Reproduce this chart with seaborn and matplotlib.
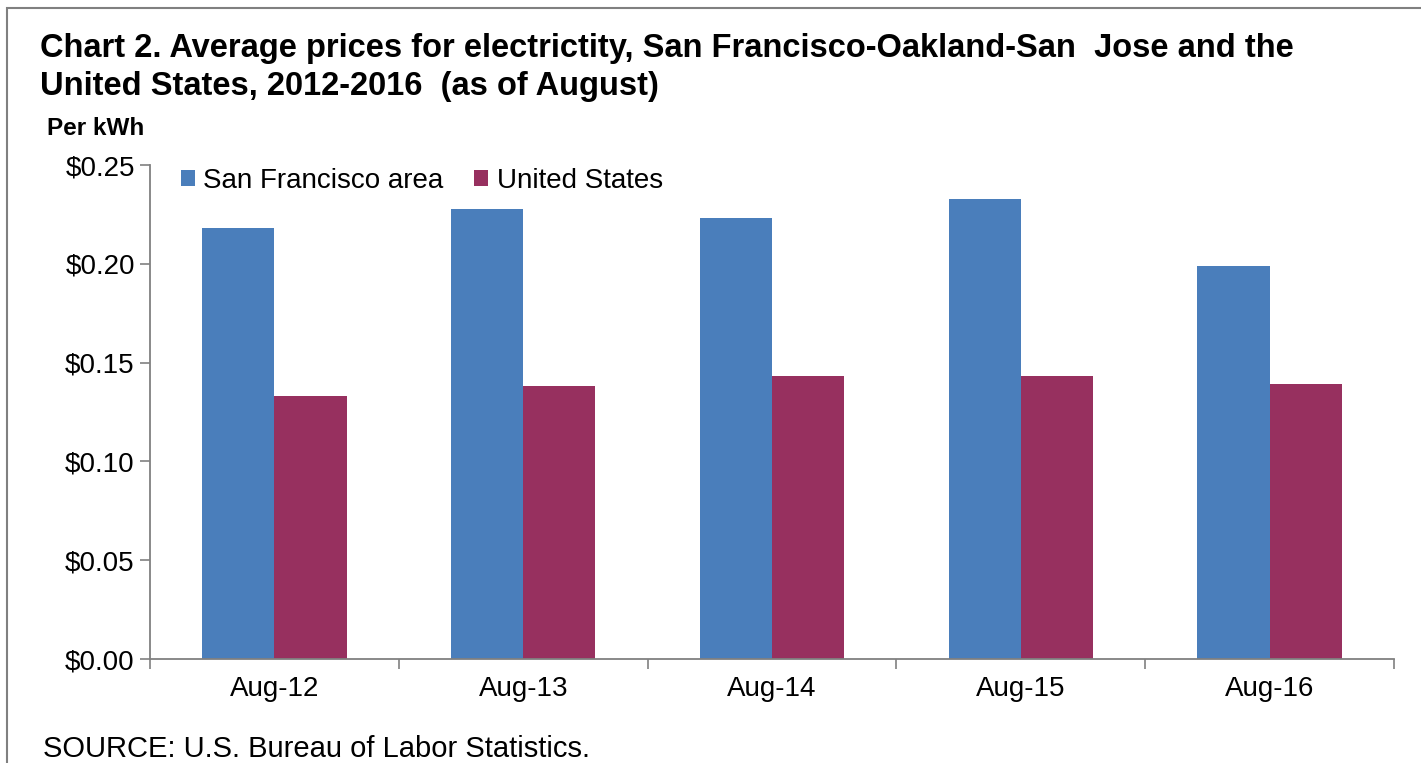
import pandas as pd
import seaborn as sns
import matplotlib.pyplot as plt
from matplotlib.ticker import FuncFormatter

periods = ['Aug-12', 'Aug-13', 'Aug-14', 'Aug-15', 'Aug-16']
sf_prices = [0.218, 0.228, 0.223, 0.233, 0.199]
us_prices = [0.133, 0.138, 0.143, 0.143, 0.139]
series_names = ['San Francisco area', 'United States']

df = pd.DataFrame({
    'period': periods * 2,
    'price': sf_prices + us_prices,
    'area': [series_names[0]] * len(periods) + [series_names[1]] * len(periods),
})

sns.set_style('white')
plt.rcParams['font.family'] = ['Liberation Sans', 'DejaVu Sans']
plt.rcParams['text.color'] = 'black'
plt.rcParams['xtick.color'] = 'black'
plt.rcParams['ytick.color'] = 'black'

fig = plt.figure(figsize=(14.21, 7.63), dpi=100)
ax = fig.add_axes([0.1056, 0.1363, 0.8754, 0.6474])

palette = {series_names[0]: '#4A7EBB', series_names[1]: '#97305F'}
sns.barplot(data=df, x='period', y='price', hue='area', palette=palette,
            width=0.58, gap=0, saturation=1, ax=ax, linewidth=0)

ax.set_xlim(-0.5, 4.5)
ax.set_ylim(0, 0.25)
ax.set_yticks([0, 0.05, 0.10, 0.15, 0.20, 0.25])
ax.yaxis.set_major_formatter(FuncFormatter(lambda v, p: f'${v:.2f}'))
ax.set_xlabel('')
ax.set_ylabel('')

# tick marks between categories, labels centered
ax.set_xticks([i - 0.5 for i in range(len(periods) + 1)], minor=True)
ax.tick_params(axis='x', which='major', bottom=True, length=0, pad=12, labelsize=20,
               labelcolor='black')
ax.tick_params(axis='x', which='minor', bottom=True, length=7, color='#808080', width=1.2,
               direction='out')
ax.tick_params(axis='y', which='major', left=True, length=7, color='#808080', width=1.2,
               direction='out', labelsize=20, pad=4, labelcolor='black')

for side in ['top', 'right']:
    ax.spines[side].set_visible(False)
for side in ['left', 'bottom']:
    ax.spines[side].set_color('#808080')
    ax.spines[side].set_linewidth(1.3)

leg = ax.legend(loc='upper left', bbox_to_anchor=(0.005, 1.045), ncol=2, frameon=False,
                fontsize=20, handlelength=0.5, handleheight=0.5, handletextpad=0.3,
                columnspacing=1.1)
for t in leg.get_texts():
    t.set_color('black')

fig.text(0.028, 0.925, 'Chart 2. Average prices for electrictity, San Francisco-Oakland-San  Jose and the',
         fontsize=23.5, fontweight='bold', ha='left', va='baseline')
fig.text(0.028, 0.876, 'United States, 2012-2016  (as of August)',
         fontsize=23.5, fontweight='bold', ha='left', va='baseline')
fig.text(0.033, 0.823, 'Per kWh', fontsize=17.5, fontweight='bold', ha='left', va='baseline')
fig.text(0.030, 0.008, 'SOURCE: U.S. Bureau of Labor Statistics.', fontsize=21, ha='left', va='baseline')

# outer frame
fig.patches.append(plt.Rectangle((0.005, -0.05), 1.5, 1.04, transform=fig.transFigure,
                                 fill=False, edgecolor='#808080', linewidth=1.5))

fig.savefig('out.png', dpi=100)
